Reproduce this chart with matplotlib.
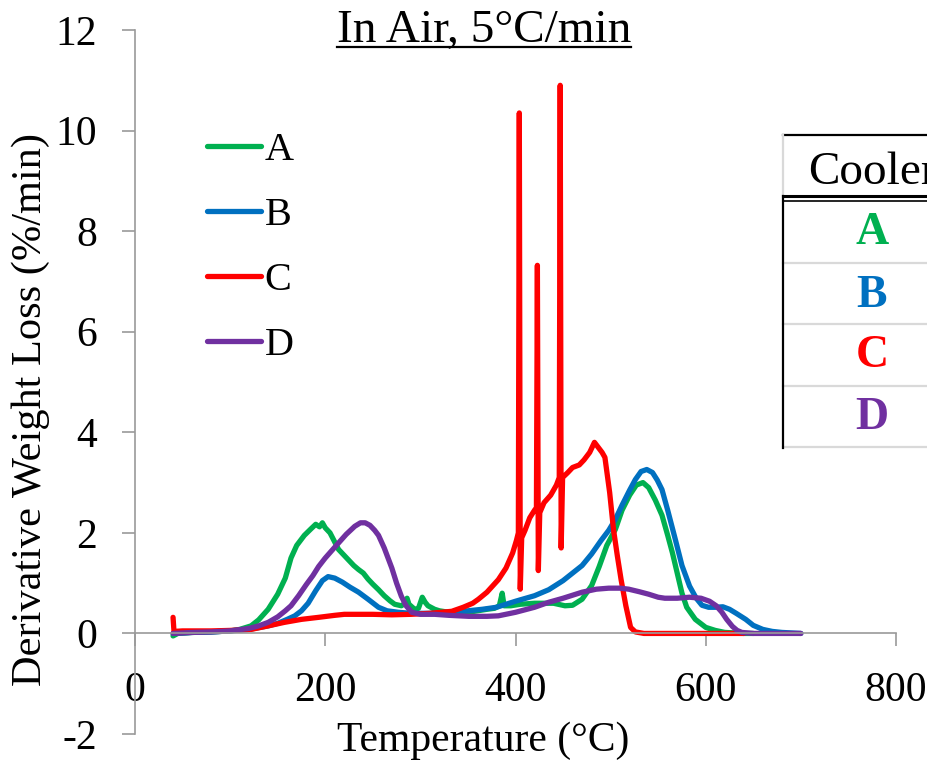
#!/usr/bin/env python3

import matplotlib
matplotlib.use('Agg')
import matplotlib.pyplot as plt
from matplotlib.lines import Line2D

plt.rcParams['font.family'] = ['Liberation Serif', 'DejaVu Serif']
plt.rcParams['axes.unicode_minus'] = False

W, H = 928, 761   # figure size in pixels

COLORS = {'A': '#00B050', 'B': '#0070C0', 'C': '#FF0000', 'D': '#7030A0'}
SERIES = ['A', 'B', 'C', 'D']

# Cooler A (temperature in C, derivative weight loss in %/min)
T_A = [40, 45, 60, 80, 100, 110, 122, 130, 140, 150, 158, 164, 170, 178, 185, 190, 194, 197,
       200, 205, 214, 220, 225, 230, 235, 240, 245, 250, 256, 262, 268, 273, 280, 284, 286,
       288, 294, 298, 302, 305, 308, 315, 320, 330, 340, 350, 360, 370, 378, 383, 386, 388,
       395, 405, 420, 430, 440, 452, 460, 470, 480, 488, 496, 505, 512, 520, 527, 534, 540,
       547, 554, 560, 565, 570, 575, 580, 589, 600, 610, 620, 640, 650]
Y_A = [-0.05, 0.0, 0.02, 0.03, 0.05, 0.08, 0.15, 0.27, 0.48, 0.78, 1.1, 1.5, 1.75, 1.95, 2.08,
       2.17, 2.12, 2.2, 2.1, 2.0, 1.67, 1.55, 1.45, 1.35, 1.27, 1.2, 1.08, 0.98, 0.87, 0.75,
       0.65, 0.58, 0.55, 0.6, 0.7, 0.58, 0.48, 0.5, 0.72, 0.62, 0.55, 0.48, 0.45, 0.42, 0.4,
       0.42, 0.45, 0.48, 0.5, 0.55, 0.8, 0.55, 0.55, 0.58, 0.6, 0.6, 0.6, 0.55, 0.56, 0.68,
       0.95, 1.33, 1.75, 2.07, 2.45, 2.75, 2.95, 3.0, 2.9, 2.65, 2.35, 1.95, 1.6, 1.2, 0.8,
       0.52, 0.28, 0.12, 0.06, 0.02, 0.0, 0.0]

# Cooler B
T_B = [40, 60, 80, 100, 120, 140, 150, 160, 168, 175, 182, 190, 197, 203, 210, 218, 226, 235,
       245, 256, 265, 277, 290, 310, 330, 350, 365, 380, 400, 420, 435, 450, 460, 470, 480,
       490, 498, 505, 512, 520, 526, 532, 538, 544, 549, 554, 560, 568, 575, 583, 590, 596,
       603, 610, 618, 625, 632, 642, 650, 660, 670, 680, 700]
Y_B = [0.0, 0.02, 0.03, 0.05, 0.08, 0.15, 0.2, 0.28, 0.35, 0.45, 0.6, 0.85, 1.05, 1.13, 1.1,
       1.02, 0.92, 0.82, 0.68, 0.52, 0.45, 0.42, 0.4, 0.4, 0.42, 0.45, 0.48, 0.52, 0.64, 0.75,
       0.87, 1.05, 1.2, 1.35, 1.58, 1.85, 2.05, 2.27, 2.55, 2.85, 3.06, 3.22, 3.26, 3.2, 3.05,
       2.86, 2.45, 1.87, 1.35, 0.94, 0.7, 0.56, 0.52, 0.52, 0.53, 0.48, 0.4, 0.28, 0.16, 0.08,
       0.04, 0.02, 0.0]

# Cooler C (with the three sharp spikes)
T_C = [40, 41, 50, 80, 100, 122, 140, 157, 175, 193, 210, 220, 250, 270, 290, 310, 333, 345,
       355, 361, 370, 382, 390, 397, 401, 403, 404, 405, 406.5, 410, 415, 420, 422, 423, 424,
       425.5, 430, 437, 443, 446, 447, 448, 449.5, 455, 460, 467, 472, 478, 483, 487, 491,
       494, 499, 503, 507, 511, 516, 521, 526, 535, 600, 640]
Y_C = [0.32, 0.04, 0.05, 0.05, 0.06, 0.08, 0.15, 0.22, 0.28, 0.32, 0.36, 0.38, 0.38, 0.37,
       0.38, 0.4, 0.44, 0.52, 0.6, 0.68, 0.82, 1.07, 1.3, 1.6, 1.85, 2.0, 10.35, 0.88, 1.9,
       2.05, 2.3, 2.45, 2.5, 7.32, 1.25, 2.4, 2.6, 2.75, 2.95, 3.1, 10.9, 1.7, 3.1, 3.2, 3.3,
       3.35, 3.45, 3.6, 3.8, 3.7, 3.6, 3.5, 2.8, 2.07, 1.55, 1.07, 0.55, 0.12, 0.03, 0.0, 0.0,
       0.0]

# Cooler D
T_D = [40, 60, 80, 100, 120, 130, 140, 150, 158, 164, 172, 180, 187, 193, 200, 207, 214, 222,
       231, 237, 242, 247, 252, 256, 262, 266, 270, 275, 280, 285, 291, 300, 315, 330, 351,
       370, 382, 400, 420, 435, 450, 470, 485, 498, 510, 519, 530, 540, 550, 557, 570, 583,
       595, 604, 611, 617, 622, 628, 633, 638, 650, 700]
Y_D = [0.0, 0.02, 0.03, 0.05, 0.1, 0.15, 0.22, 0.33, 0.45, 0.55, 0.75, 0.97, 1.15, 1.33, 1.5,
       1.65, 1.8, 1.97, 2.13, 2.2, 2.2, 2.15, 2.05, 1.95, 1.7, 1.5, 1.3, 1.0, 0.74, 0.55, 0.42,
       0.38, 0.38, 0.36, 0.34, 0.34, 0.35, 0.42, 0.52, 0.62, 0.7, 0.82, 0.88, 0.9, 0.9, 0.88,
       0.83, 0.78, 0.72, 0.7, 0.7, 0.72, 0.7, 0.64, 0.55, 0.42, 0.28, 0.14, 0.06, 0.02, 0.0,
       0.0]

DATA = {'A': (T_A, Y_A), 'B': (T_B, Y_B), 'C': (T_C, Y_C), 'D': (T_D, Y_D)}

X_TICKS = [0, 200, 400, 600, 800]
Y_TICKS = [-2, 0, 2, 4, 6, 8, 10, 12]

TITLE = 'In Air, 5°C/min'
X_LABEL = 'Temperature (°C)'
Y_LABEL = 'Derivative Weight Loss (%/min)'
TABLE_HEADER = 'Cooler'


def fx(px):
    return px / W


def fy(py):
    return 1 - py / H


fig = plt.figure(figsize=(W / 100, H / 100), dpi=100)
ax = fig.add_axes([fx(135), fy(734), fx(896) - fx(135), fy(30) - fy(734)])

for name in SERIES:
    t, y = DATA[name]
    ax.plot(t, y, color=COLORS[name], lw=3.8, solid_joinstyle='round',
            solid_capstyle='round', label=name)

ax.set_xlim(0, 800)
ax.set_ylim(-2, 12)
ax.set_xticks(X_TICKS)
ax.set_yticks(Y_TICKS)

grey = '#9a9a9a'
for s in ['top', 'right']:
    ax.spines[s].set_visible(False)
ax.spines['bottom'].set_position(('data', 0))
for s in ['left', 'bottom']:
    ax.spines[s].set_color(grey)
    ax.spines[s].set_linewidth(1.2)
ax.tick_params(axis='both', direction='out', length=9.5, width=1.2, color=grey,
               labelsize=30, labelcolor='black')
ax.tick_params(axis='x', pad=18)
ax.tick_params(axis='y', pad=18)

# axis titles
fig.text(fx(31), fy(410), Y_LABEL, rotation=90, ha='center', va='center', fontsize=30.5)
fig.text(fx(483), fy(722), X_LABEL, ha='center', va='top', fontsize=30)

# underlined title
title = fig.text(fx(484), fy(42), TITLE, ha='center', va='baseline', fontsize=34)
fig.canvas.draw()
bb = title.get_window_extent(fig.canvas.get_renderer())
fig.add_artist(Line2D([bb.x0 / W, bb.x1 / W], [fy(47), fy(47)], transform=fig.transFigure,
                      color='black', lw=1.6))

# legend
ax.legend(loc='upper left', bbox_to_anchor=(fx(207), fy(132)), bbox_transform=fig.transFigure,
          frameon=False, fontsize=29, handlelength=1.35, handletextpad=0.08,
          labelspacing=0.69, borderaxespad=0, borderpad=0)

# partial table on the right (cut by the figure edge, as in the source)
def hline(py, x0, x1, color, lw):
    fig.add_artist(Line2D([fx(x0), fx(x1)], [fy(py), fy(py)], transform=fig.transFigure,
                          color=color, lw=lw))


def vline(px, y0, y1, color, lw):
    fig.add_artist(Line2D([fx(px), fx(px)], [fy(y0), fy(y1)], transform=fig.transFigure,
                          color=color, lw=lw))


light = '#d9d9d9'
hline(135, 783, 930, 'black', 1.6)
vline(783, 135, 196, light, 1.6)
for py in [263, 324, 386, 447]:
    hline(py, 783, 930, light, 1.6)
hline(196, 783, 930, 'black', 2.2)
hline(200.5, 783, 930, 'black', 1.2)
vline(783, 196, 448, 'black', 1.6)

fig.text(fx(808), fy(173), TABLE_HEADER, ha='left', va='center', fontsize=34)
row_y = [233, 296, 356, 418]
for name, py in zip(SERIES, row_y):
    fig.text(fx(872), fy(py), name, ha='center', va='center', fontsize=33,
             fontweight='bold', color=COLORS[name])

fig.savefig('out.png', dpi=100)
